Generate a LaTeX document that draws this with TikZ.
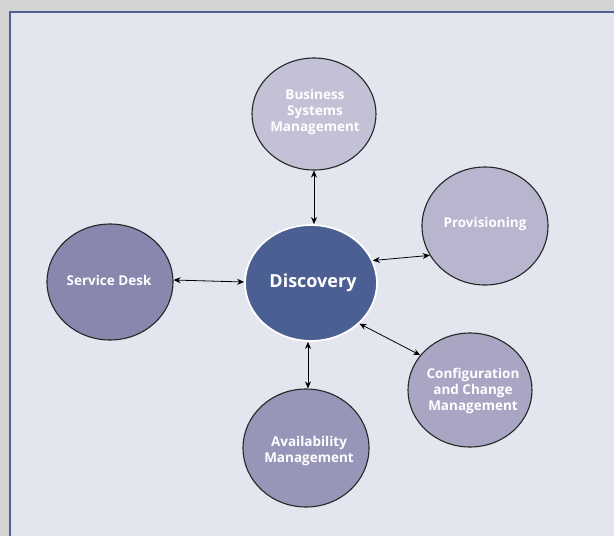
\documentclass[tikz,border=0pt]{standalone}
\usepackage{fontspec}
\setmainfont{Open Sans}
\usetikzlibrary{arrows.meta,shapes.geometric}
\begin{document}
\begin{tikzpicture}[x=1pt,y=-1pt,
  orbit/.style={ellipse, draw=black!85, line width=1.1pt, inner sep=0pt},
  hub/.style={ellipse, draw=white, line width=1.8pt, inner sep=0pt, fill=core},
  lbl/.style={text=white, font=\bfseries\fontsize{13.5}{16}\selectfont, align=center},
  biglbl/.style={text=white, font=\bfseries\fontsize{18}{21}\selectfont},
  link/.style={black, line width=0.8pt, {Stealth[length=7pt,width=6pt]}-{Stealth[length=7pt,width=6pt]}}
]
\definecolor{pagegray}{HTML}{D3D3D4}
\definecolor{panel}{HTML}{E4E6EF}
\definecolor{frame}{HTML}{4E6190}
\definecolor{core}{HTML}{4B5F92}
\definecolor{bsm}{HTML}{C3C1D6}
\definecolor{prov}{HTML}{B8B5CE}
\definecolor{desk}{HTML}{8987AD}
\definecolor{avail}{HTML}{9896B8}
\definecolor{cfg}{HTML}{A9A6C4}
\useasboundingbox (0,0) rectangle (614,536);
% page and panel
\fill[pagegray] (0,0) rectangle (614,536);
\fill[panel] (10,12) rectangle (620,545);
\draw[frame, line width=1.6pt] (10,545) -- (10,12) -- (620,12);

% satellite circles
\node[orbit, fill=bsm, minimum width=124pt, minimum height=112pt] (bsm) at (314,114) {};
\node[orbit, fill=prov, minimum width=126pt, minimum height=118pt] (prov) at (485,226) {};
\node[orbit, fill=desk, minimum width=126pt, minimum height=116pt] (desk) at (110,282) {};
\node[orbit, fill=cfg, minimum width=124pt, minimum height=114pt] (cfg) at (470,390) {};
\node[orbit, fill=avail, minimum width=126pt, minimum height=118pt] (avail) at (306,448) {};
% central circle
\node[hub, minimum width=132pt, minimum height=116pt] (core) at (311,283) {};

% labels
\node[lbl] (bsmT) at (315,112) {Business\\Systems\\Management};
\node[lbl] (provT) at (485,224) {Provisioning};
\node[lbl] (deskT) at (109,280) {Service Desk};
\node[lbl] (cfgT) at (473,391) {Configuration\\and Change\\Management};
\node[lbl] (availT) at (309,451) {Availability\\Management};
\node[biglbl] (coreT) at (313,283) {Discovery};

% connectors, rim to rim
\draw[link] (bsm.south) -- ([xshift=3pt]core.north);
\draw[link] ([yshift=2pt]desk.east) -- ([yshift=1pt]core.west);
\draw[link] (prov.-152) -- (core.20);
\draw[link] (cfg.145) -- (core.-40);
\draw[link] ([xshift=2pt]avail.north) -- ([xshift=-3pt]core.south);
\end{tikzpicture}
\end{document}
